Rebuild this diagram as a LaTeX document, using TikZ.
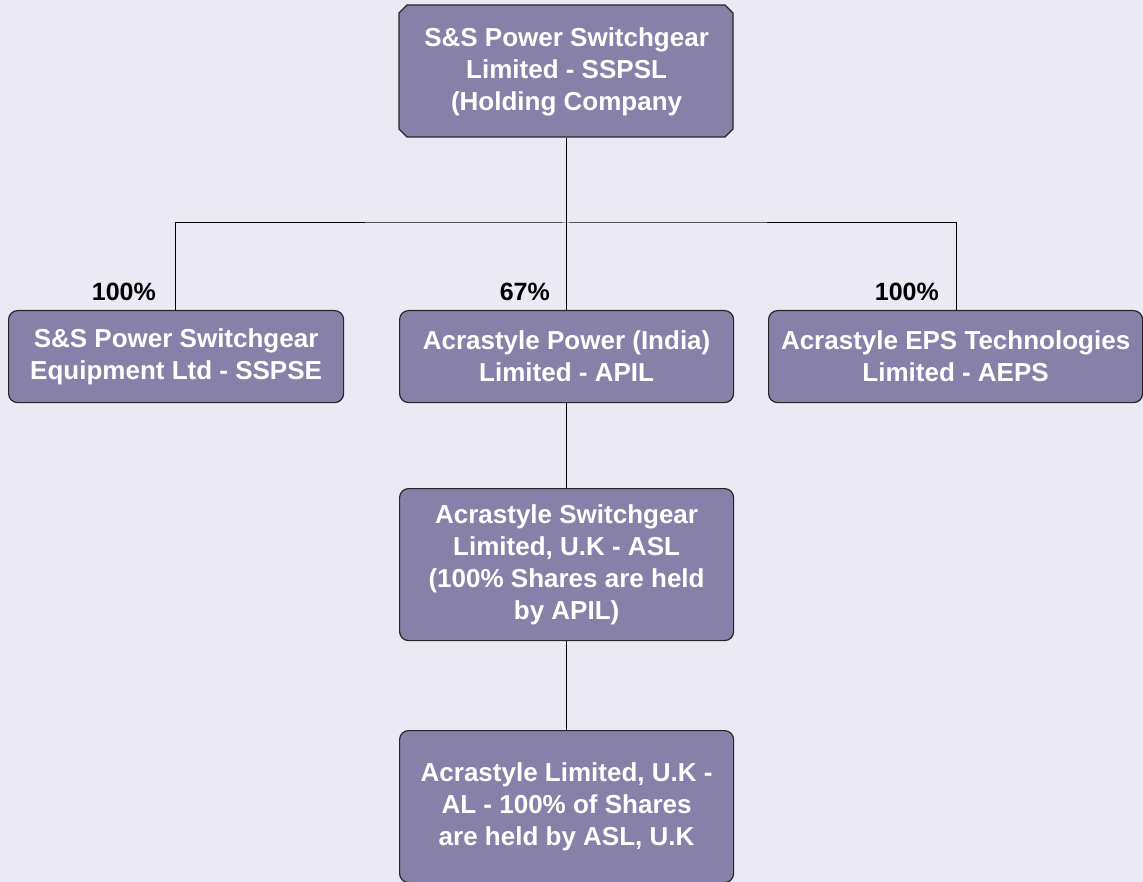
\documentclass[tikz,border=0pt]{standalone}
\usepackage{fontspec}
\setmainfont{Liberation Sans}
\definecolor{bgc}{RGB}{235,233,243}
\definecolor{boxc}{RGB}{135,128,168}
\begin{document}
\begin{tikzpicture}[x=1pt,y=-1pt,
  org/.style={draw=black!85, line width=1.2pt, fill=boxc, text=white,
    font=\fontsize{26}{32}\selectfont\bfseries, align=center,
    rounded corners=9pt, inner sep=0pt, anchor=north west},
  pct/.style={font=\fontsize{25}{30}\selectfont\bfseries, text=black, anchor=base east, inner sep=0pt},
  link/.style={draw=black, line width=1pt}]
\fill[bgc] (0,0) rectangle (1143,882);
\useasboundingbox (0,0) rectangle (1143,882);
\draw[draw=black!85, line width=1.2pt, fill=boxc]
  (407,5) -- (725,5) -- (733,13) -- (733,129) -- (725,137) -- (407,137) -- (399,129) -- (399,13) -- cycle;
\node[org, draw=none, fill=none, rounded corners=0pt,
  minimum width=334pt, minimum height=132pt] (top) at (399,5) {S\&S Power Switchgear\\Limited - SSPSL\\(Holding Company};
\node[org, minimum width=335pt, minimum height=92pt] (sspse) at (8,310) {S\&S Power Switchgear\\Equipment Ltd - SSPSE};
\node[org, minimum width=334pt, minimum height=92pt] (apil) at (399,310) {Acrastyle Power (India)\\Limited - APIL};
\node[org, minimum width=374pt, minimum height=92pt] (aeps) at (768,310) {Acrastyle EPS Technologies\\Limited - AEPS};
\node[org, minimum width=334pt, minimum height=152pt] (asl) at (399,488) {Acrastyle Switchgear\\Limited, U.K - ASL\\(100\% Shares are held\\by APIL)};
\node[org, minimum width=334pt, minimum height=152pt] (al) at (399,730) {Acrastyle Limited, U.K -\\AL - 100\% of Shares\\are held by ASL, U.K};
\draw[link] (top.south) -- (apil.north);
\draw[link] (sspse.north -| 175,0) |- (566,223) -| (aeps.north -| 956,0);
\draw[link] (apil.south) -- (asl.north);
\draw[link] (asl.south) -- (al.north);
\node[pct] (p1) at (156,301) {100\%};
\node[pct] (p2) at (550,301) {67\%};
\node[pct] (p3) at (939,301) {100\%};
\end{tikzpicture}
\end{document}
